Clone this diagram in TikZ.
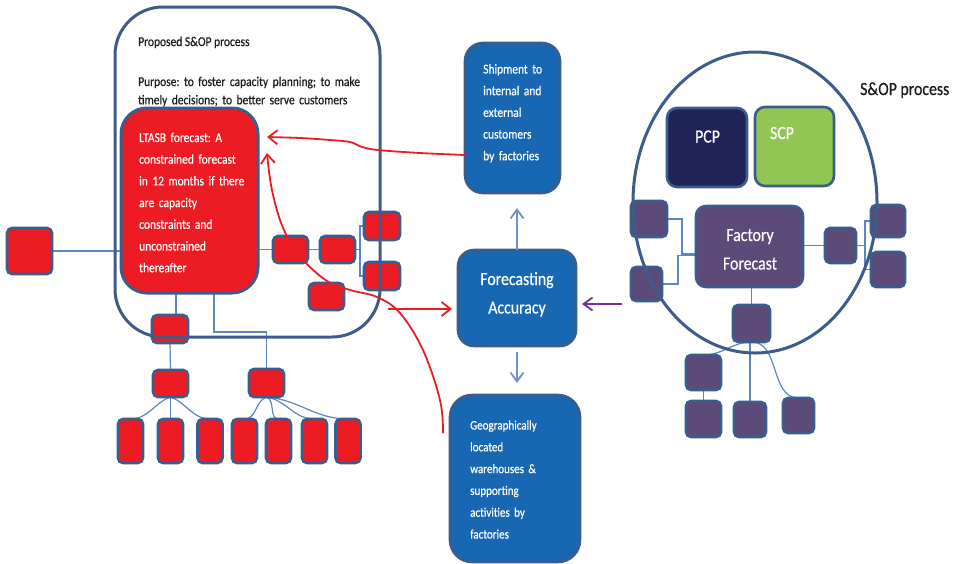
\documentclass[tikz,border=0pt]{standalone}
\usepackage{fontspec}
\setmainfont{Carlito}[FakeStretch=0.85,FakeBold=0.5]
\usetikzlibrary{arrows.meta,shapes.geometric}
\definecolor{redf}{HTML}{ED1C24}
\definecolor{bord}{HTML}{3B5D8B}
\definecolor{bigc}{HTML}{3E5C89}
\definecolor{bluef}{HTML}{1767B2}
\definecolor{connc}{HTML}{5B86C2}
\definecolor{purf}{HTML}{5C4A79}
\definecolor{pcpf}{HTML}{1F2357}
\definecolor{scpf}{HTML}{92C654}
\definecolor{arrb}{HTML}{6C93C9}
\definecolor{arrp}{HTML}{7030A0}
\definecolor{redl}{HTML}{EC1C24}
\definecolor{txt}{HTML}{1A1A1A}
\newcommand\mysmallfont{\fontsize{13.5}{21.7}\selectfont}
\newcommand\mybigfont{\fontsize{18.6}{28.5}\selectfont}
\frenchspacing
\pgfdeclarelayer{bg}
\pgfsetlayers{bg,main}
\begin{document}
\begin{tikzpicture}[x=1pt,y=-1pt,
  sz/.style 2 args={minimum width=#1pt,minimum height=#2pt},
  sbox/.style={draw=bord,line width=2.6pt,rounded corners=5pt,inner sep=0pt,outer sep=0pt},
  redbox/.style={sbox,fill=redf},
  purbox/.style={sbox,fill=purf},
  bluebox/.style={draw=bord,line width=2.6pt,fill=bluef,inner sep=0pt,outer sep=0pt},
  conn/.style={draw=connc,line width=1.2pt},
  wtext/.style={text=white,inner sep=0pt,anchor=base west,align=left,font=\mysmallfont},
  redarr/.style={draw=redl,line width=1.8pt,-{Straight Barb[length=9pt,width=14pt]}},
  bluearr/.style={draw=arrb,line width=1.8pt,-{Straight Barb[length=9pt,width=13pt]}},
  purarr/.style={draw=arrp,line width=1.8pt,-{Straight Barb[length=9pt,width=13pt]}}
]
\useasboundingbox (0,0) rectangle (961,563);

% ---------- left group ----------
\node[redbox,sz={45}{46}] (r0) at (29.5,251) {};
\node[draw=bord,line width=3pt,fill=redf,rounded corners=26pt,sz={137}{185},inner sep=0pt,outer sep=0pt] (lt) at (189.5,200.5) {};
\node[redbox,sz={35}{27}] (r1) at (290.5,249.5) {};
\node[redbox,sz={35}{27}] (r2) at (337.5,249.5) {};
\node[redbox,sz={36}{28}] (r3) at (382,226) {};
\node[redbox,sz={36}{28}] (r4) at (382,276) {};
\node[redbox,sz={35}{27}] (r5) at (326.5,296.5) {};
\node[redbox,sz={36}{28}] (ta) at (170,329) {};
\node[redbox,sz={35}{27}] (tb) at (170.5,383.5) {};
\node[redbox,sz={35}{28}] (tc) at (266.5,383) {};
\foreach \n/\x in {l1/130.5,l2/170.5,l3/210,l4/244.5,l5/278.5,l6/314.5,l7/348}
  \node[redbox,sz={25}{44}] (\n) at (\x,441) {};

\node[text=txt,inner sep=0pt,anchor=base west,font=\mysmallfont] (ttl) at (138,46) {Proposed S\&OP process};
\node[text=txt,inner sep=0pt,anchor=base west,align=left,text width=240pt,font={\fontsize{13.5}{18.3}\selectfont}] (purp) at (138,86)
  {Purpose: to foster capacity planning; to make\\timely decisions; to better serve customers};
\node[wtext,text width=125pt] (ltt) at (139,142)
  {LTASB forecast: A\\constrained forecast\\in 12 months if there\\are capacity\\constraints and\\unconstrained\\thereafter};

% ---------- centre ----------
\node[bluebox,rounded corners=18pt,sz={95}{150}] (ship) at (512.5,118) {};
\node[bluebox,rounded corners=16pt,sz={118}{96}] (fa) at (517,298) {};
\node[bluebox,rounded corners=22pt,sz={130}{167}] (geo) at (515,478.5) {};
\node[wtext,text width=80pt] (shipt) at (483,73.5)
  {Shipment to\\internal and\\external\\customers\\by factories};
\node[wtext,text width=110pt,font={\fontsize{13}{21.8}\selectfont}] (geot) at (470,429.5)
  {Geographically\\located\\warehouses \&\\supporting\\activities by\\factories};
\node[text=white,inner sep=0pt,anchor=base,align=center,text width=112pt,font=\mybigfont] (fat) at (517,285)
  {Forecasting\\Accuracy};

% ---------- right group ----------
\node[draw=bord,line width=2.6pt,fill=pcpf,rounded corners=10pt,sz={80}{79},inner sep=0pt] (pcp) at (707,147.5) {};
\node[draw=bord,line width=2.6pt,fill=scpf,rounded corners=10pt,sz={79}{79},inner sep=0pt] (scp) at (794.5,146.5) {};
\node[text=white,inner sep=0pt,anchor=base,font=\mybigfont] (pcpt) at (707.5,142.5) {PCP};
\node[text=white,inner sep=0pt,anchor=base,font=\mybigfont] (scpt) at (782,139) {SCP};
\node[draw=bord,line width=2.6pt,fill=purf,rounded corners=10pt,sz={107}{81},inner sep=0pt] (ff) at (749.5,246.5) {};
\node[text=white,inner sep=0pt,anchor=base,align=center,text width=100pt,font=\mybigfont] (fft) at (750,241) {Factory\\Forecast};
\node[purbox,sz={36}{36}] (p1) at (649,219) {};
\node[purbox,sz={31}{34}] (p2) at (646.5,284) {};
\node[purbox,sz={31}{35}] (p3) at (840.5,245.5) {};
\node[purbox,sz={34}{32}] (p4) at (888,221) {};
\node[purbox,sz={34}{35}] (p5) at (888,269.5) {};
\node[purbox,sz={37}{37}] (p6) at (751.5,323.5) {};
\node[purbox,sz={35}{35}] (p7) at (703.5,372.5) {};
\node[purbox,sz={35}{36}] (p8) at (703.5,419) {};
\node[purbox,sz={32}{35}] (p9) at (750,419.5) {};
\node[purbox,sz={31}{35}] (p10) at (798.5,415.5) {};
\node[text=txt,inner sep=0pt,anchor=base west,font=\mybigfont] (sopt) at (860,95) {S\&OP process};

% containers (drawn over the small boxes)
\node[draw=bigc,line width=3pt,rounded corners=48pt,sz={265}{330},inner sep=0pt] (proc) at (247.5,172) {};
\node[draw=bigc,line width=3pt,ellipse,minimum width=244pt,minimum height=301pt,inner sep=0pt] (sop) at (755,202.5) {};

% ---------- thin connectors ----------
\begin{pgfonlayer}{bg}
\draw[conn] (r0.east) -- (r0.east -| lt.west);
\draw[conn] (r1.west -| lt.east) -- (r1.west);
\draw[conn] (r1.east) -- (r2.west);
\draw[conn] (r2.east) -- ++(5,0) |- (r3.west);
\draw[conn] (r2.east) -- ++(5,0) |- (r4.west);
\draw[conn] ([xshift=6pt]ta.north |- lt.south) -- ([xshift=6pt]ta.north);
\draw[conn] (ta.south) -- (tb.north);
\draw[conn] ([xshift=24.5pt]lt.south) -- ++(0,39) -| (tc.north);
\draw[conn] (tb.south) to[out=200,in=0] (l1.north);
\draw[conn] (tb.south) -- (l2.north);
\draw[conn] (tb.south) to[out=-20,in=180] (l3.north);
\draw[conn] (tc.south) to[out=200,in=0] (l4.north);
\draw[conn] (tc.south) to[out=-20,in=180] (l5.north);
\draw[conn] (tc.south) to[out=-10,in=180] (l6.north);
\draw[conn] (tc.south) to[out=-5,in=180] (l7.north);
\draw[conn] (p1.east) -- ++(15,0) |- ([yshift=-7.5pt]ff.west);
\draw[conn] (p2.east) -- ++(16,0) |- ([yshift=-9pt]ff.west);
\draw[conn] (p3.west -| ff.east) -- (p3.west);
\draw[conn] (p3.east) -- ++(9,0) |- (p4.west);
\draw[conn] (p3.east) -- ++(9,0) |- (p5.west);
\draw[conn] (p6.north |- ff.south) -- (p6.north);
\draw[conn] (p6.south) to[out=180,in=0] (p7.north);
\draw[conn] (p7.south) -- (p8.north);
\draw[conn] (p9.north |- p6.south) -- (p9.north);
\draw[conn] (p6.south) to[out=0,in=180] (p10.north);
\end{pgfonlayer}

% ---------- arrows ----------
\coordinate (upT) at (517,208);
\coordinate (dnT) at (517,383);
\draw[bluearr] (fa.north) -- (upT);
\draw[bluearr] ([yshift=-6pt]fa.south) -- (dnT);
\coordinate (pS) at (622,304);
\coordinate (pT) at (582,304);
\draw[purarr] (pS) -- (pT);
\coordinate (rhS) at (388,309);
\coordinate (rhT) at (452,309);
\draw[redarr] (rhS) -- (rhT);
\coordinate (ra1) at (465,155);
\coordinate (ra2) at (267,137);
\draw[redarr] plot[smooth,tension=0.6] coordinates {(ra1) (420,153) (378,150) (362,147) (350,142) (330,140) (300,138) (ra2)};
\coordinate (rb1) at (443,433);
\coordinate (rb2) at (267,153);
\draw[redarr] plot[smooth,tension=0.6] coordinates {(rb1) (440,400) (423,350) (400,313) (377,297) (350,290) (327,281) (303,260) (289,240) (279,217) (271,185) (rb2)};
\end{tikzpicture}
\end{document}
